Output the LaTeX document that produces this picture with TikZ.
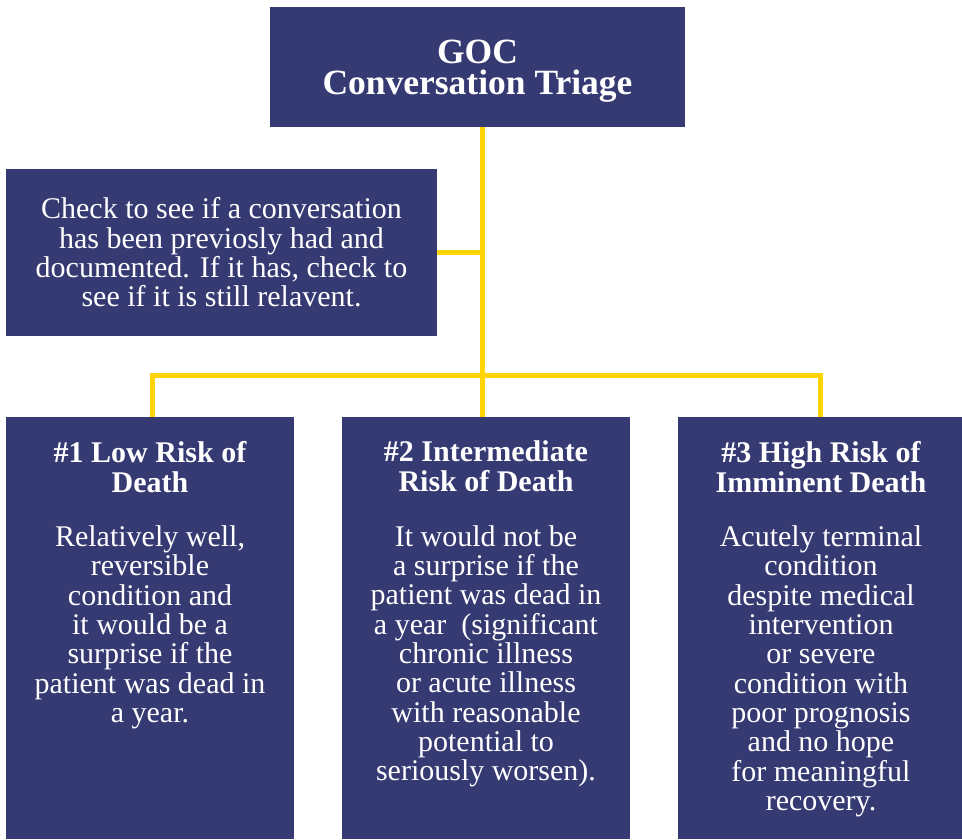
\documentclass[tikz,border=0pt]{standalone}
\usepackage{fontspec}
\setmainfont{Liberation Serif}
\usetikzlibrary{positioning}
\definecolor{navy}{RGB}{54,58,115}
\definecolor{gold}{RGB}{255,212,0}
\tikzstyle{BoxNode}=[rectangle, fill=navy, text=white, align=center, inner sep=0pt]
\tikzstyle{TitleText}=[text=white, align=center, inner sep=0pt, font=\bfseries\fontsize{35.5}{31}\selectfont]
\tikzstyle{HeadText}=[text=white, align=center, inner sep=0pt, font=\bfseries\fontsize{30}{30}\selectfont]
\tikzstyle{BodyText}=[text=white, align=center, inner sep=0pt, font=\fontsize{30}{29.3}\selectfont]
\tikzstyle{Link}=[draw=gold, line width=5pt]

\begin{document}
\begin{tikzpicture}[x=1pt, y=-1pt]
      \useasboundingbox (0,0) rectangle (962,839);
      % boxes
      \node[BoxNode, minimum width=415pt, minimum height=120pt] (Goc) at (477.5,67) {};
      \node[BoxNode, BodyText, fill=navy, minimum width=431pt, minimum height=167pt] (Check) at (221.5,252.5) {Check to see if a conversation\\has been previosly had and\\documented. If it has, check to\\see if it is still relavent.};
      \node[BoxNode, minimum width=288pt, minimum height=422pt] (Low) at (150,628) {};
      \node[BoxNode, minimum width=288pt, minimum height=422pt] (Mid) at (486,628) {};
      \node[BoxNode, minimum width=286pt, minimum height=422pt] (High) at (821,628) {};
      % texts
      \node[TitleText, yshift=-4pt] (GocText) at (Goc) {GOC\\Conversation Triage};
      \node[HeadText, below=24pt of Low.north] (LowHead) {\#1 Low Risk of\\Death};
      \node[BodyText, below=33pt of LowHead] (LowBody) {Relatively well,\\reversible\\condition and\\it would be a\\surprise if the\\patient was dead in\\a year.};
      \node[HeadText, below=24pt of Mid.north] (MidHead) {\#2 Intermediate\\Risk of Death};
      \node[BodyText, below=33pt of MidHead] (MidBody) {It would not be\\a surprise if the\\patient was dead in\\a year~ (significant\\chronic illness\\or acute illness\\with reasonable\\potential to\\seriously worsen).};
      \node[HeadText, below=24pt of High.north] (HighHead) {\#3 High Risk of\\Imminent Death};
      \node[BodyText, below=33pt of HighHead] (HighBody) {Acutely terminal\\condition\\despite medical\\intervention\\or severe\\condition with\\poor prognosis\\and no hope\\for meaningful\\recovery.};
      % connectors
      \coordinate (Hub) at (482.5,375);
      \coordinate (BusL) at (152,375);
      \coordinate (BusR) at (820,375);
      \draw[Link] (Goc.south -| Hub) -- (Hub |- Mid.north);
      \draw[Link] (Check.east) -- (Check.east -| Hub);
      \draw[Link] (Low.north -| BusL) -- (BusL) -- (BusR) -- (BusR |- High.north);
    \end{tikzpicture}
\end{document}
